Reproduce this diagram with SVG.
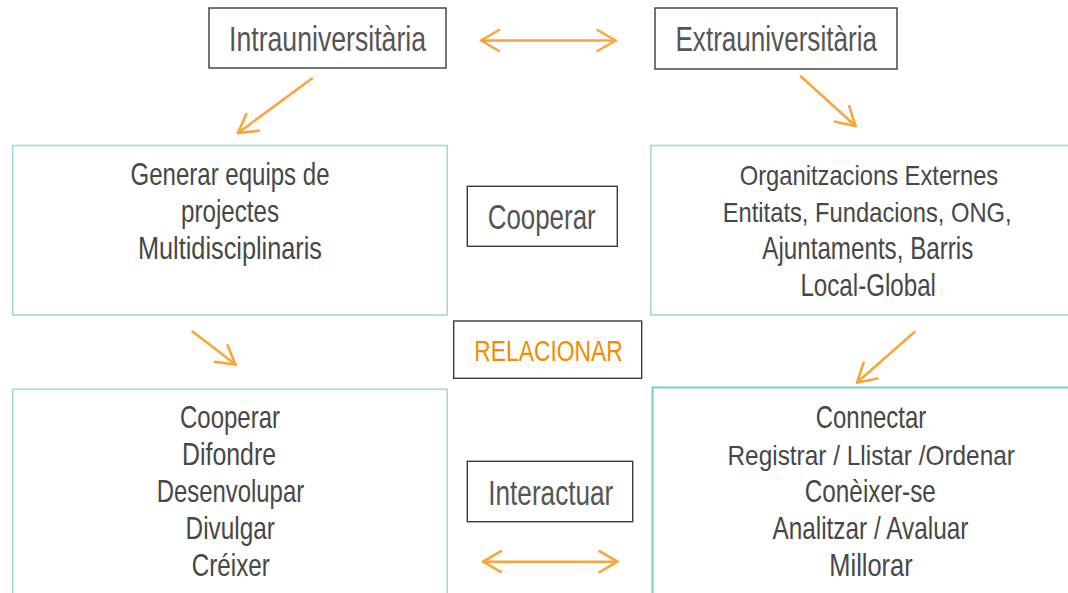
<svg xmlns="http://www.w3.org/2000/svg" width="1068" height="593" viewBox="0 0 1068 593">
<style>
.lbl{fill:none;stroke:#3a3a3a;stroke-width:1.4}
.box{fill:none;stroke:#a3d9d9;stroke-width:1.6}
.box2{fill:none;stroke:#7fcfcf;stroke-width:2.2}
text{font-family:"Liberation Sans Narrow","Liberation Sans",Arial,sans-serif;text-anchor:middle}
.t{font-size:35px;fill:#555555}
.b{font-size:30.5px;fill:#474747}
.w{font-size:28px}
.r{font-size:29px;fill:#f28c00}
.c{fill:none;stroke:#f9a53c;stroke-width:2.6;stroke-linecap:round}
</style>
<defs>
<marker id="ah" markerUnits="userSpaceOnUse" viewBox="-22 -13 26 26" refX="0" refY="0" markerWidth="26" markerHeight="26" orient="auto-start-reverse">
<path d="M-18,-10.5 L0,0 L-18,10.5" fill="none" stroke="#f9a53c" stroke-width="2.6" stroke-linecap="round" stroke-linejoin="round"/>
</marker>
</defs>
<rect width="1068" height="593" fill="#ffffff"/>
<g id="connectors">
<line class="c" x1="481" y1="40.5" x2="615.5" y2="40.5" marker-start="url(#ah)" marker-end="url(#ah)"/>
<line class="c" x1="312" y1="78.5" x2="238" y2="133" marker-end="url(#ah)"/>
<line class="c" x1="801" y1="76.5" x2="855.5" y2="126" marker-end="url(#ah)"/>
<line class="c" x1="192.5" y1="331.5" x2="235.5" y2="364.5" marker-end="url(#ah)"/>
<line class="c" x1="914.5" y1="332" x2="857" y2="382.5" marker-end="url(#ah)"/>
<line class="c" x1="483" y1="561.7" x2="617.5" y2="561.7" marker-start="url(#ah)" marker-end="url(#ah)"/>
</g>
<g id="intra">
<rect class="lbl" x="209" y="8" width="237" height="60"/>
<text class="t" x="327.5" y="50.5" textLength="197" lengthAdjust="spacingAndGlyphs">Intrauniversitària</text>
</g>
<g id="extra">
<rect class="lbl" x="655" y="8" width="242" height="61"/>
<text class="t" x="776.2" y="51" textLength="201.5" lengthAdjust="spacingAndGlyphs">Extrauniversitària</text>
</g>
<g id="equips">
<rect class="box" x="12.7" y="145.5" width="434.5" height="169.5"/>
<text class="b" x="230" y="184.5" textLength="199" lengthAdjust="spacingAndGlyphs">Generar equips de</text>
<text class="b" x="230" y="221.5" textLength="98" lengthAdjust="spacingAndGlyphs">projectes</text>
<text class="b" x="230" y="258.5" textLength="184" lengthAdjust="spacingAndGlyphs">Multidisciplinaris</text>
</g>
<g id="organitzacions">
<rect class="box" x="650.8" y="145.5" width="430" height="169.5"/>
<text class="b w" x="869" y="184.5" textLength="258.5" lengthAdjust="spacingAndGlyphs">Organitzacions Externes</text>
<text class="b w" x="867.2" y="221.5" textLength="289" lengthAdjust="spacingAndGlyphs">Entitats, Fundacions, ONG,</text>
<text class="b" x="867.8" y="258.5" textLength="211" lengthAdjust="spacingAndGlyphs">Ajuntaments, Barris</text>
<text class="b" x="868.2" y="295.7" textLength="135.5" lengthAdjust="spacingAndGlyphs">Local-Global</text>
</g>
<g id="cooperar">
<rect class="lbl" x="467.3" y="186.3" width="150" height="60"/>
<text class="t" x="541.7" y="228.7" textLength="108" lengthAdjust="spacingAndGlyphs">Cooperar</text>
</g>
<g id="relacionar">
<rect class="lbl" x="453.7" y="321" width="188" height="57.3"/>
<text class="r" x="548.5" y="361" textLength="148.4" lengthAdjust="spacingAndGlyphs">RELACIONAR</text>
</g>
<g id="interactuar">
<rect class="lbl" x="467.3" y="461.3" width="165.4" height="60.4"/>
<text class="t" x="550.8" y="505" textLength="125" lengthAdjust="spacingAndGlyphs">Interactuar</text>
</g>
<g id="accions">
<rect class="box" x="12.7" y="389.3" width="434.5" height="220"/>
<text class="b" x="230" y="428.3" textLength="100" lengthAdjust="spacingAndGlyphs">Cooperar</text>
<text class="b" x="229" y="465" textLength="94" lengthAdjust="spacingAndGlyphs">Difondre</text>
<text class="b" x="230.4" y="502" textLength="147.5" lengthAdjust="spacingAndGlyphs">Desenvolupar</text>
<text class="b" x="230.2" y="538.8" textLength="89.3" lengthAdjust="spacingAndGlyphs">Divulgar</text>
<text class="b" x="230.8" y="576" textLength="78" lengthAdjust="spacingAndGlyphs">Créixer</text>
</g>
<g id="connectar">
<rect class="box2" x="652.5" y="387.5" width="430" height="220"/>
<text class="b" x="871" y="428.3" textLength="110.7" lengthAdjust="spacingAndGlyphs">Connectar</text>
<text class="b w" x="871.2" y="465" textLength="287.5" lengthAdjust="spacingAndGlyphs">Registrar / Llistar /Ordenar</text>
<text class="b" x="870.3" y="501.8" textLength="131" lengthAdjust="spacingAndGlyphs">Conèixer-se</text>
<text class="b" x="870.4" y="538.5" textLength="196" lengthAdjust="spacingAndGlyphs">Analitzar / Avaluar</text>
<text class="b" x="871" y="576" textLength="83.4" lengthAdjust="spacingAndGlyphs">Millorar</text>
</g>
</svg>
